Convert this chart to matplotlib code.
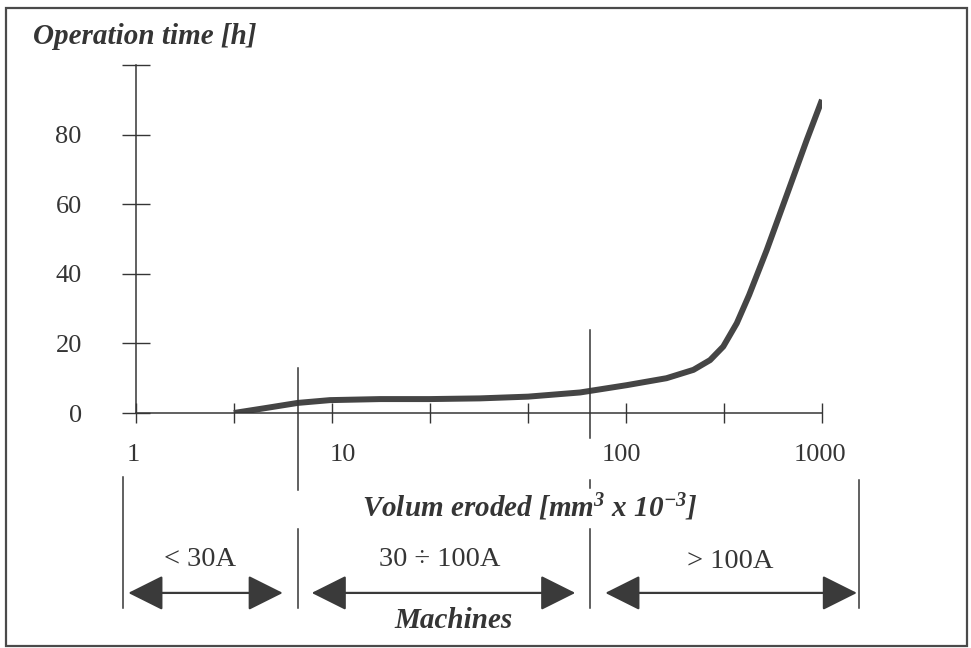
import numpy as np
import matplotlib
matplotlib.use("Agg")
import matplotlib.pyplot as plt
from matplotlib.ticker import NullLocator
from matplotlib.patches import Rectangle

plt.rcParams['font.family'] = 'Liberation Serif'
plt.rcParams['mathtext.fontset'] = 'custom'
plt.rcParams['mathtext.rm'] = 'Liberation Serif:bold:italic'
plt.rcParams['mathtext.it'] = 'Liberation Serif:bold:italic'
plt.rcParams['mathtext.bf'] = 'Liberation Serif:bold:italic'

# curve: volume eroded (mm3 x 10^-3) vs operation time (h)
volume = [2.68, 3.67, 5.1, 7.05, 11.7, 19.3, 31.9, 51.8, 87.5, 140, 209, 274,
          324, 370, 424, 480, 573, 701, 857, 1000]
op_time = [0, 1.4, 2.9, 3.7, 4.0, 4.0, 4.2, 4.7, 5.9, 8.0, 10.0, 12.4,
           15.2, 19.1, 25.8, 33.9, 46.8, 62.6, 78.4, 90]

y_ticks = [0, 20, 40, 60, 80, 100]
y_labels = ['0', '20', '40', '60', '80', '']
x_ticks = [10 ** (3 * k / 7) for k in range(8)]
x_labels = ['1', '10', '100', '1000']
x_label_pos = [0.97, 8.0, 133, 980]

# machine classes and their boundaries on the volume axis
classes = ['< 30A', '30 ÷ 100A', '> 100A']
class_edges = [0.88, 5.1, 97, 1450]

W, H = 971, 648
ink = '#353535'


def px(x, y):
    return x / W, 1 - y / H


fig = plt.figure(figsize=(W / 100, H / 100), dpi=100)
fig.patch.set_facecolor('white')
ax = fig.add_axes([136 / W, 1 - 413 / H, (822 - 136) / W, (413 - 65) / H])
ax.patch.set_alpha(0)

ax.plot(volume, op_time, color='#454545', lw=4.3, solid_capstyle='butt',
        solid_joinstyle='round')

ax.set_xscale('log')
ax.set_xlim(1, 1000)
ax.set_ylim(0, 100)
for s in ['top', 'right']:
    ax.spines[s].set_visible(False)
for s in ['left', 'bottom']:
    ax.spines[s].set_color(ink)
    ax.spines[s].set_linewidth(1.1)

ax.set_yticks(y_ticks)
ax.set_yticklabels(y_labels)
ax.tick_params(axis='y', direction='inout', length=20, width=1, pad=29,
               labelsize=19, colors=ink)
ax.set_xticks(x_ticks)
ax.set_xticklabels([])
ax.xaxis.set_minor_locator(NullLocator())
ax.tick_params(axis='x', direction='inout', length=14, width=1, colors=ink)

for lab, xp in zip(x_labels, x_label_pos):
    ax.text(xp, -12, lab, ha='center', va='center', fontsize=19,
            color=ink, clip_on=False)

# vertical separators (data x, y pieces below / above the axis)
sep_pieces = [
    [(-18.4, -56)],
    [(12.9, -22.1), (-33.3, -56)],
    [(23.9, -7.2), (-19.3, -21.6), (-33.3, -56)],
    [(-19.3, -56)],
]
for xe, pieces in zip(class_edges, sep_pieces):
    for y0, y1 in pieces:
        ax.plot([xe, xe], [y0, y1], color=ink, lw=1.1, clip_on=False)

# double arrows for the machine classes
shrinks = [(3.6, 10.8), (10, 10.8), (10.8, 1.4)]
for i, (sa, sb) in enumerate(shrinks):
    ax.annotate('', xy=(class_edges[i + 1], -51.7), xytext=(class_edges[i], -51.7),
                arrowprops=dict(arrowstyle='<|-|>,head_length=1.1,head_width=0.55',
                                mutation_scale=20, shrinkA=sa, shrinkB=sb,
                                lw=1.6, color='#3a3a3a'),
                annotation_clip=False)

label_xy = [(200, 560), (440, 560), (730, 561)]
for lab, (x, y) in zip(classes, label_xy):
    fig.text(*px(x, y), lab, ha='center', va='center', fontsize=20.5, color=ink)

fig.text(*px(33, 37), 'Operation time [h]', ha='left', va='center',
         fontsize=21, fontweight='bold', fontstyle='italic', color=ink)
fig.text(*px(530, 507), r'Volum eroded [mm$^{3}$ x 10$^{-3}$]', ha='center',
         va='center', fontsize=21, fontweight='bold', fontstyle='italic', color=ink)
fig.text(*px(454, 620), 'Machines', ha='center', va='center',
         fontsize=21, fontweight='bold', fontstyle='italic', color=ink)

# frame round the figure
fig.patches.append(Rectangle(px(6, 646), 961 / W, 638 / H, transform=fig.transFigure,
                             fill=False, edgecolor='#4a4a4a', lw=1.6))

fig.savefig('out.png', dpi=100)
